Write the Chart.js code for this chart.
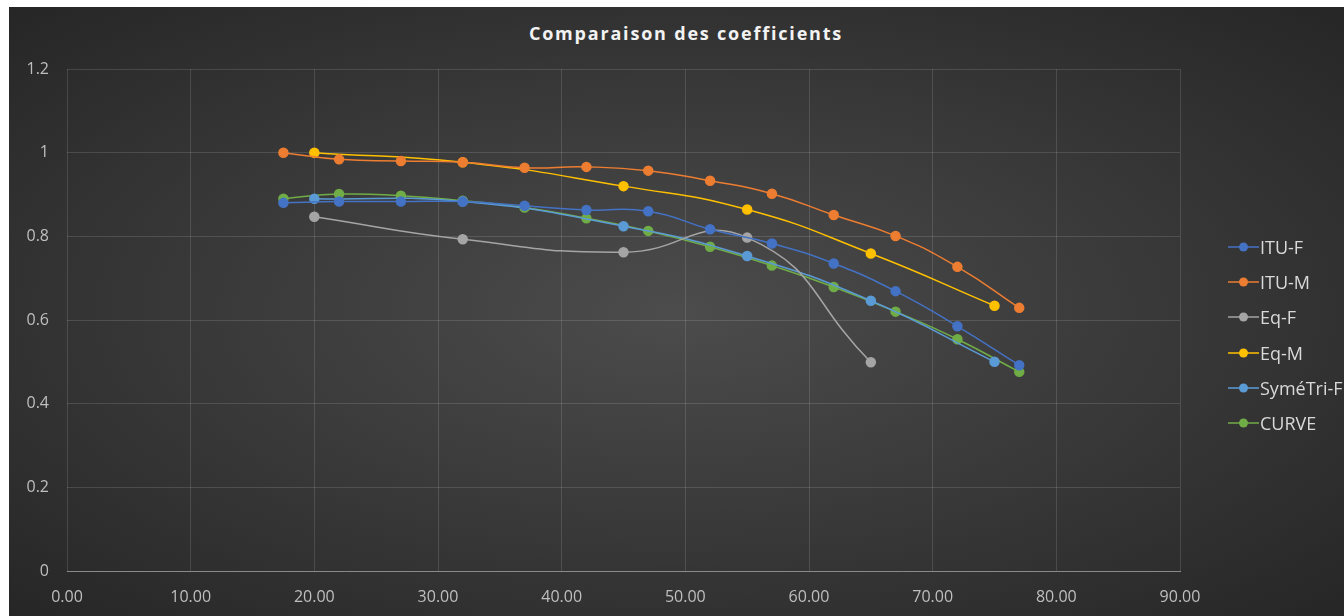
<!DOCTYPE html>
<html lang="fr">
<head>
<meta charset="utf-8">
<script src="https://cdn.jsdelivr.net/npm/chart.js@4"></script>
<style>
  html, body { margin: 0; padding: 0; background: #ffffff; overflow: hidden; }
  #frame {
    position: absolute; left: 9px; top: 7px; width: 1335px; height: 609px;
    background: radial-gradient(ellipse at 50% 50%, #4c4c4c 0%, #3b3b3b 45%, #262626 100%);
    overflow: hidden;
  }
  #title {
    position: absolute; left: 0; width: 1354px; top: 14px; text-align: center;
    font: bold 18px "Open Sans", sans-serif; letter-spacing: 1.8px; color: #f2f2f2;
  }
  #legend { position: absolute; left: 1219px; top: 222px; }
  .item { display: flex; align-items: center; height: 35.3px; white-space: nowrap;
    font: 18px "Open Sans", sans-serif; color: #d9d9d9; }
  .item canvas { margin-right: 1px; }
  #chartBox { position: absolute; left: 0; top: 0; width: 1335px; height: 609px; }
</style>
</head>
<body>
<div id="frame">
  <div id="title">Comparaison des coefficients</div>
  <div id="chartBox"><canvas id="coefChart"></canvas></div>
  <div id="legend"></div>
</div>
<script>
// ======================================================================
// Daten
// ======================================================================
const xItu = [17.5, 22, 27, 32, 37, 42, 47, 52, 57, 62, 67, 72, 77];
const xEq  = [20, 32, 45, 55, 65, 75];

const ituF     = [0.880, 0.883, 0.883, 0.883, 0.873, 0.863, 0.860, 0.817, 0.783, 0.735, 0.669, 0.585, 0.492];
const ituM     = [1.000, 0.984, 0.980, 0.977, 0.964, 0.966, 0.957, 0.933, 0.902, 0.851, 0.801, 0.727, 0.629];
const xEqF     = [20, 32, 45, 55, 65];
const eqF      = [0.847, 0.793, 0.762, 0.797, 0.499];
const eqM      = [1.000, 0.977, 0.920, 0.864, 0.759, 0.634];
const symeTriF = [0.890, 0.883, 0.824, 0.753, 0.646, 0.500];
const curve    = [0.890, 0.901, 0.897, 0.885, 0.869, 0.843, 0.813, 0.775, 0.730, 0.679, 0.620, 0.554, 0.476];

const xTicks = [0, 10, 20, 30, 40, 50, 60, 70, 80, 90];
const yTicks = [0, 0.2, 0.4, 0.6, 0.8, 1, 1.2];

// ======================================================================
// Farben (Office-Palette)
// ======================================================================
const seriesColors = {
  ituF: "#4472C4",
  ituM: "#ED7D31",
  eqF: "#A5A5A5",
  eqM: "#FFC000",
  symeTriF: "#5B9BD5",
  curve: "#70AD47"
};

function toPoints(xs, ys) {
  return xs.map((x, i) => ({ x: x, y: ys[i] }));
}

function makeDataset(label, xs, ys, color) {
  return {
    label: label,
    data: toPoints(xs, ys),
    borderColor: color,
    backgroundColor: color,
    pointBackgroundColor: color,
    pointBorderColor: color,
    pointRadius: 4.5,
    borderWidth: 1.5,
    showLine: true,
    fill: false,
    tension: 0.5
  };
}

const datasets = [
  makeDataset("ITU-F", xItu, ituF, seriesColors.ituF),
  makeDataset("ITU-M", xItu, ituM, seriesColors.ituM),
  makeDataset("Eq-F", xEqF, eqF, seriesColors.eqF),
  makeDataset("Eq-M", xEq, eqM, seriesColors.eqM),
  makeDataset("SyméTri-F", xEq, symeTriF, seriesColors.symeTriF),
  makeDataset("CURVE", xItu, curve, seriesColors.curve)
];

const tickFont = { family: "Open Sans", size: 16 };
const gridColor = "rgba(255,255,255,0.13)";

const ctx = document.getElementById('coefChart').getContext('2d');
const coefChart = new Chart(ctx, {
  type: 'scatter',
  data: { datasets: datasets },
  options: {
    responsive: true,
    maintainAspectRatio: false,
    animation: false,
    layout: { padding: { top: 62, right: 164, left: 0, bottom: 0 } },
    scales: {
      x: {
        type: 'linear',
        min: 0, max: 90,
        afterBuildTicks: s => { s.ticks = xTicks.map(v => ({ value: v })); },
        afterFit: s => { s.height = 45; },
        ticks: {
          color: "#bfbfbf", font: tickFont, padding: 17,
          callback: v => v.toFixed(2)
        },
        grid: { color: gridColor, drawTicks: false },
        border: { color: "#8a8a8a", width: 1 }
      },
      y: {
        min: 0, max: 1.2,
        afterBuildTicks: s => { s.ticks = yTicks.map(v => ({ value: v })); },
        afterFit: s => { s.width = 58; },
        ticks: {
          color: "#bfbfbf", font: tickFont, padding: 18,
          callback: v => String(Math.round(v * 10) / 10)
        },
        grid: { color: gridColor, drawTicks: false },
        border: { display: false }
      }
    },
    plugins: {
      legend: { display: false },
      tooltip: { enabled: false }
    }
  }
});

// ======================================================================
// Legende (Linie mit Marker, wie im Original)
// ======================================================================
const legendBox = document.getElementById('legend');
coefChart.data.datasets.forEach(ds => {
  const item = document.createElement('div');
  item.className = 'item';
  const icon = document.createElement('canvas');
  icon.width = 31; icon.height = 12;
  const c = icon.getContext('2d');
  c.strokeStyle = ds.borderColor; c.lineWidth = 1.5;
  c.beginPath(); c.moveTo(0, 6); c.lineTo(31, 6); c.stroke();
  c.fillStyle = ds.borderColor;
  c.beginPath(); c.arc(15.5, 6, 4.5, 0, Math.PI * 2); c.fill();
  item.appendChild(icon);
  const txt = document.createElement('span');
  txt.textContent = ds.label;
  item.appendChild(txt);
  legendBox.appendChild(item);
});
</script>
</body>
</html>
